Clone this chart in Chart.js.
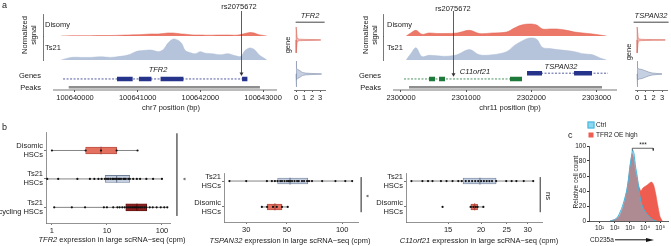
<!DOCTYPE html>
<html>
<head>
<meta charset="utf-8">
<script src="https://cdn.jsdelivr.net/npm/chart.js@4.4.1/dist/chart.umd.min.js"></script>
<style>
  body { margin: 0; background: #fff; }
  #fig { position: relative; width: 671px; height: 246px; overflow: hidden;
         font-family: "Liberation Sans", Arial, Helvetica, sans-serif; color: #222; }
  #fig canvas { position: absolute; }
  .t { position: absolute; font-size: 7.5px; line-height: 1.15; white-space: nowrap; text-align: center; }
  .pl { font-size: 9px; }
</style>
</head>
<body>
<div id="fig"></div>
<script>
// ---------- panel a : coverage tracks ----------
const chr7Ticks = [100640000, 100641000, 100642000, 100643000];
const chr7Pos = [100639780, 100639940, 100640100, 100640250, 100640410, 100640570, 100640730, 100640860, 100640970, 100641080, 100641210, 100641330, 100641410, 100641480, 100641560, 100641640, 100641700, 100641760, 100641840, 100641920, 100642000, 100642080, 100642190, 100642320, 100642440, 100642560, 100642650, 100642710, 100642790, 100642860, 100642920, 100642980, 100643060];
const chr7Disomy = [0, 0.3, 0.3, 0.3, 0.5, 0.5, 0.8, 1, 1.2, 1.5, 2, 2, 2.5, 3, 3, 2.5, 2, 1.8, 1.2, 1, 1, 0.8, 0.8, 1, 1, 0.8, 1.5, 2.5, 3.5, 3, 1.5, 0.8, 0];
const chr7Ts21 = [0, 2.5, 2.5, 2.5, 3, 2.5, 3.5, 5, 8, 9, 9.5, 8, 10, 16, 20, 19, 16, 9, 7, 6, 8, 6.5, 6, 5, 6, 4, 3.5, 9, 11.5, 10, 6, 3, 0];
const tfr2Span = [100639810, 100642750];
const tfr2ExonStart = [100640670, 100641020, 100641365, 100642665];
const tfr2ExonEnd = [100640920, 100641220, 100641730, 100642750];
const chr7Peak = [100639900, 100642950];
const chr7Snp = 100642650;

const chr11Ticks = [2300000, 2301000, 2302000, 2303000];
const chr11Pos = [2300080, 2300150, 2300230, 2300320, 2300430, 2300550, 2300690, 2300860, 2301050, 2301200, 2301400, 2301620, 2301740, 2301850, 2301970, 2302080, 2302170, 2302280, 2302390, 2302540, 2302660, 2302790, 2302940, 2303050, 2303150];
const chr11Disomy = [0, 3, 5.7, 1.7, 3, 2.5, 2.5, 3, 5.7, 2.5, 3, 4, 8, 11, 12, 11, 7, 7, 7, 5.7, 4, 3, 2, 1, 0];
const chr11Ts21 = [0, 6, 11.7, 3.3, 4.5, 4, 3.5, 5, 10, 5, 5, 8, 14, 18, 21, 20, 12, 11, 10, 9, 8, 6, 5, 2, 0];
const c11Span = [2300046, 2301856];
const c11ExonStart = [2300430, 2300583, 2301672];
const c11ExonEnd = [2300522, 2300675, 2301856];
const tspanSpan = [2301933, 2303175];
const tspanExonStart = [2301933, 2302654];
const tspanExonEnd = [2302163, 2302930];
const chr11Peak = [2300123, 2303083];
const chr11Snp = 2300798;

// violins (expression 0..3, relative density)
const violinTicks = [0, 1, 2, 3];
const tfr2VioDisX = [0, 0.02, 0.15, 0.4, 1, 2, 3.1];
const tfr2VioDisD = [0, 1, 0.12, 0.06, 0.045, 0.035, 0.02];
const tfr2VioTsX = [0, 0.02, 0.1, 0.25, 0.5, 0.8, 1.2, 2, 3.2];
const tfr2VioTsD = [0, 1, 0.45, 0.33, 0.25, 0.12, 0.07, 0.04, 0.02];
const tspVioDisX = [0, 0.02, 0.15, 0.5, 1, 2, 3.4];
const tspVioDisD = [0, 1, 0.1, 0.05, 0.04, 0.03, 0.02];
const tspVioTsX = [0, 0.02, 0.1, 0.3, 0.6, 1.0, 1.4, 1.8, 2.4, 3.0];
const tspVioTsD = [0, 1, 0.45, 0.38, 0.35, 0.25, 0.15, 0.08, 0.04, 0.02];

// ---------- panel b : expression boxplots ----------
const tfr2Cats = [['Disomic', 'HSCs'], ['Ts21', 'HSCs'], ['Ts21', 'cycling HSCs']];
const tfr2Ticks = [1, 10, 100];
const tfr2Disomic = [1.0, 4.1, 7.8, 15, 36];
const tfr2Ts21 = [0.82, 1.3, 2.9, 4.9, 5.9, 7, 8, 9.2, 10, 10.6, 11.5, 12.5, 13, 14, 15, 16, 17, 18, 19.8, 21, 22, 24.4, 26, 30, 35, 40, 52, 69, 100];
const tfr2Cycling = [1.1, 2.3, 4.0, 8.8, 10, 13, 15.5, 17, 19, 21, 23, 25, 27, 29, 31, 33, 35, 38, 41, 44, 48, 52, 60, 68, 80, 95, 110, 125];
const tfr2Stats = [[1.0, 4.1, 7.8, 15, 36], [0.82, 9.3, 15, 26, 100], [1.1, 22, 35, 53, 125]];

const twoCats = [['Ts21', 'HSCs'], ['Disomic', 'HSCs']];
const tspanTicks = [30, 50, 100];
const tspanTs21 = [24.3, 30, 38.9, 41.4, 43, 44.5, 46, 47, 48.5, 50, 51, 52, 53.3, 55, 56.8, 58, 60.4, 62, 64.4, 66, 68.5, 77.8, 91.9, 104, 113.4];
const tspanDisomic = [36.5, 39, 42, 44, 47, 50.5];
const tspanStats = [[24.3, 44.5, 52, 65, 113.4], [36.5, 39, 43, 47, 50.5]];

const c11Ticks = [15, 20, 25, 30];
const c11Ts21 = [10.9, 12.0, 12.6, 13.1, 14.1, 14.8, 15.6, 16.4, 16.9, 17.5, 18, 18.5, 19, 19.5, 20, 20.5, 21, 21.5, 22, 22.8, 24.9, 26.1, 27.2, 29, 31.5];
const c11Disomic = [14.3, 18.3, 18.7, 19.1, 19.4, 20.4];
const c11Stats = [[10.9, 17.1, 19.8, 22.8, 31.5], [18.0, 18.3, 18.9, 19.4, 20.4]];

// ---------- panel c : CD235a histogram ----------
const cdTicks = [10, 100, 1000, 10000, 100000];
const cdTickLabels = ['10\u00b9', '10\u00b2', '10\u00b3', '10\u2074', '10\u2075'];
const ctrlX = [49, 105, 170, 290, 430, 620, 800, 1000, 1320, 1510, 1860, 2400, 3100, 3980, 5370, 7590, 12900, 21400, 35500, 58900];
const ctrlY = [0, 2, 6.7, 17, 28, 41, 55, 72, 88, 95, 90, 72, 59, 41, 26, 17, 10, 5, 1.3, 0];
const oeX = [49, 135, 224, 363, 525, 708, 912, 1175, 1445, 1780, 2290, 2950, 3980, 5370, 7240, 10000, 14100, 21400, 27500, 37200, 50100, 69200, 97700, 138000];
const oeY = [0, 3, 8, 19, 32, 46, 64, 81, 90, 84, 68, 57, 46, 40, 44, 46, 48, 51, 52, 48, 37, 21, 6, 0];

const BLUE = '#B6C4DB', NAVY = '#27348B', GREEN = '#1D7A3A';

Chart.defaults.font.family = '"Liberation Sans", Arial, Helvetica, sans-serif';
Chart.defaults.font.size = 7.5;
Chart.defaults.color = '#222';
Chart.defaults.plugins.legend.display = false;
Chart.defaults.plugins.tooltip.enabled = false;
Chart.defaults.elements.point.radius = 0;

const fig = document.getElementById('fig');

function mk(left, top, w, h) {
  const c = document.createElement('canvas');
  c.width = w; c.height = h;
  c.style.left = left + 'px'; c.style.top = top + 'px';
  c.style.width = w + 'px'; c.style.height = h + 'px';
  fig.appendChild(c);
  return c;
}

function lab(html, x, y, o = {}) {
  const d = document.createElement('div');
  d.className = 't' + (o.cls ? ' ' + o.cls : '');
  d.innerHTML = html;
  d.style.left = x + 'px';
  d.style.top = y + 'px';
  let tf = o.anchor === 'right' ? 'translate(-100%,-50%)' : o.anchor === 'left' ? 'translate(0,-50%)' : 'translate(-50%,-50%)';
  if (o.rot) tf += ' rotate(' + o.rot + 'deg)';
  d.style.transform = tf;
  if (o.size) d.style.fontSize = o.size + 'px';
  if (o.css) Object.assign(d.style, o.css);
  fig.appendChild(d);
  return d;
}

const pts = (xs, ys) => xs.map((x, i) => ({ x, y: ys[i] }));
const segs = (s, e, y) => s.flatMap((a, i) => [{ x: a, y }, { x: e[i], y }, { x: e[i], y: null }]);
const fixedTicks = vals => s => { s.ticks = vals.map(v => ({ value: v })); };

// arrow for the SNP, drawn from the x scale
const snpPlugin = {
  id: 'snp',
  afterDatasetsDraw(chart, args, o) {
    const ctx = chart.ctx;
    const x = Math.round(chart.scales.x.getPixelForValue(o.pos)) + 0.5;
    const y0 = chart.chartArea.top - 3;
    const y1 = chart.scales.yG.getPixelForValue(o.tip);
    ctx.save();
    ctx.strokeStyle = '#333'; ctx.fillStyle = '#333'; ctx.lineWidth = 0.8;
    ctx.beginPath(); ctx.moveTo(x, y0); ctx.lineTo(x, y1 - 2); ctx.stroke();
    ctx.beginPath(); ctx.moveTo(x - 2, y1 - 3.5); ctx.lineTo(x + 2, y1 - 3.5); ctx.lineTo(x, y1); ctx.closePath(); ctx.fill();
    ctx.restore();
  }
};

function trackChart(cv, o) {
  const hidden = (w, border, min, max) => ({
    type: 'linear', position: 'left', stack: 'trk', stackWeight: w, min, max,
    grid: { display: false, drawTicks: false }, ticks: { display: false },
    border: { display: border, color: '#555', width: 0.8 },
    afterFit: s => { s.width = 0; }
  });
  const ds = [
    { data: pts(o.pos, o.dis), yAxisID: 'yD', fill: 'origin', backgroundColor: 'rgba(232,96,79,0.85)', borderColor: '#E25A48', borderWidth: 0.5, tension: 0.35 },
    { data: pts(o.pos, o.ts), yAxisID: 'yT', fill: 'origin', backgroundColor: BLUE, borderColor: '#A9B9D3', borderWidth: 0.5, tension: 0.35 },
    { data: [{ x: o.peak[0], y: 0.45 }, { x: o.peak[1], y: 0.45 }], yAxisID: 'yP', borderColor: '#8E8E8E', borderWidth: 2.5, borderCapStyle: 'butt' },
    { data: [{ x: o.axis[0], y: 0 }, { x: o.axis[1], y: 0 }], yAxisID: 'yP', borderColor: '#555', borderWidth: 0.8, clip: false }
  ];
  o.genes.forEach(g => {
    ds.push({ data: [{ x: g.span[0], y: g.row }, { x: g.span[1], y: g.row }], yAxisID: 'yG', borderColor: g.color, borderWidth: 0.8, borderDash: [2, 1.5] });
    ds.push({ data: segs(g.s, g.e, g.row), yAxisID: 'yG', borderColor: g.color, borderWidth: 4.5, borderCapStyle: 'butt', spanGaps: false });
  });
  // stacked axes are laid out bottom-up, so the peaks row comes first
  return new Chart(cv, {
    type: 'line',
    data: { datasets: ds },
    plugins: [snpPlugin],
    options: {
      animation: false, responsive: false, devicePixelRatio: 1,
      layout: { padding: { left: 43, right: o.padRight, top: 14, bottom: 10 } },
      plugins: { snp: { pos: o.snp, tip: o.tip } },
      scales: {
        x: {
          type: 'linear', min: o.min, max: o.max,
          afterBuildTicks: fixedTicks(o.ticks),
          afterFit: s => { s.height = 16; },
          ticks: { autoSkip: false, maxRotation: 0, padding: 1, callback: v => String(v) },
          grid: { drawOnChartArea: false, tickLength: 2, color: '#555' },
          border: { display: false }
        },
        yP: hidden(6, false, 0, 1),
        yG: hidden(24, false, 0, 10),
        yT: hidden(24, true, 0, 23),
        yD: hidden(22, true, 0, 22)
      }
    }
  });
}

trackChart(mk(0, 0, 290, 116), {
  pos: chr7Pos, dis: chr7Disomy, ts: chr7Ts21, peak: chr7Peak, axis: [100639650, 100643222],
  genes: [{ span: tfr2Span, s: tfr2ExonStart, e: tfr2ExonEnd, row: 2.1, color: NAVY }],
  snp: chr7Snp, tip: 3.3, min: 100639490, max: 100643270, padRight: 10, ticks: chr7Ticks
});
trackChart(mk(340, 0, 290, 116), {
  pos: chr11Pos, dis: chr11Disomy, ts: chr11Ts21, peak: chr11Peak, axis: [2299877, 2303313],
  genes: [{ span: c11Span, s: c11ExonStart, e: c11ExonEnd, row: 2.1, color: GREEN },
          { span: tspanSpan, s: tspanExonStart, e: tspanExonEnd, row: 4.5, color: NAVY }],
  snp: chr11Snp, tip: 3.0, min: 2299724, max: 2303359, padRight: 10, ticks: chr11Ticks
});

function violinChart(cv, rows, xmin, xmax, padL, padR) {
  const VW = 0.38;
  const ds = [];
  rows.forEach(r => {
    ds.push({ data: r.x.map((x, i) => ({ x, y: r.c + r.d[i] * VW })), borderColor: r.stroke, borderWidth: 0.6 });
    ds.push({ data: r.x.map((x, i) => ({ x, y: r.c - r.d[i] * VW })), borderColor: r.stroke, borderWidth: 0.6, fill: '-1', backgroundColor: r.fill });
  });
  return new Chart(cv, {
    type: 'line',
    data: { datasets: ds },
    options: {
      animation: false, responsive: false, devicePixelRatio: 1,
      layout: { padding: { left: padL, right: padR, top: 26, bottom: 10 } },
      scales: {
        x: {
          type: 'linear', min: xmin, max: xmax,
          afterBuildTicks: fixedTicks(violinTicks),
          afterFit: s => { s.height = 16; },
          ticks: { autoSkip: false, maxRotation: 0, padding: 1 },
          grid: { drawOnChartArea: false, tickLength: 2, color: '#555' },
          border: { color: '#555', width: 0.8 }
        },
        y: { type: 'linear', min: -0.47, max: 1.41, display: false }
      }
    }
  });
}

violinChart(mk(280, 0, 60, 116), [
  { c: 1, x: tfr2VioDisX, d: tfr2VioDisD, stroke: '#D9685A', fill: 'rgba(232,112,95,0.45)' },
  { c: 0, x: tfr2VioTsX, d: tfr2VioTsD, stroke: '#8391AB', fill: 'rgba(182,196,219,0.8)' }
], -0.25, 3.625, 14, 15);
violinChart(mk(620, 0, 51, 116), [
  { c: 1, x: tspVioDisX, d: tspVioDisD, stroke: '#D9685A', fill: 'rgba(232,112,95,0.45)' },
  { c: 0, x: tspVioTsX, d: tspVioTsD, stroke: '#8391AB', fill: 'rgba(182,196,219,0.8)' }
], -0.24, 3.6, 15, 4);

// ---------- boxplots ----------
function boxChart(cv, o) {
  const ds = [];
  o.stats.forEach((st, i) => {
    ds.push({ type: 'line', data: [{ x: st[0], y: i }, { x: st[4], y: i }], borderColor: '#666', borderWidth: 0.8, order: 4 });
    ds.push({ type: 'line', data: [{ x: st[2], y: i - 0.13 }, { x: st[2], y: i + 0.13 }], borderColor: o.border[i], borderWidth: 1.2, order: 2 });
    ds.push({ type: 'scatter', data: o.pts[i].map(v => ({ x: v, y: i })), pointRadius: 1.1, backgroundColor: '#111', borderWidth: 0, order: 1 });
  });
  ds.push({
    type: 'bar', indexAxis: 'y', data: o.stats.map((st, i) => ({ x: [st[1], st[3]], y: i })),
    backgroundColor: o.fill, borderColor: o.border, borderWidth: 0.8, borderSkipped: false,
    barThickness: o.barT, order: 3
  });
  ds.push({ type: 'line', data: o.bracket, borderColor: '#666', borderWidth: 0.8, clip: false, order: 0 });
  return new Chart(cv, {
    type: 'bar',
    data: { datasets: ds },
    options: {
      animation: false, responsive: false, devicePixelRatio: 1,
      layout: { padding: o.pad },
      scales: {
        x: {
          type: 'logarithmic', min: o.xmin, max: o.xmax, offset: false,
          afterBuildTicks: fixedTicks(o.ticks),
          afterFit: s => { s.height = 16; },
          ticks: { autoSkip: false, maxRotation: 0, padding: 1, callback: v => String(v) },
          grid: { drawOnChartArea: false, offset: false, tickLength: 2, color: '#777' },
          border: { color: '#777', width: 0.8 }
        },
        y: {
          type: 'linear', min: o.ymin, max: o.ymax, reverse: true, offset: false,
          afterBuildTicks: fixedTicks(o.cats.map((c, i) => i)),
          afterFit: s => { s.width = o.yW; },
          ticks: { autoSkip: false, padding: 1, callback: v => o.cats[v] },
          grid: { drawOnChartArea: false, offset: false, tickLength: 2, color: '#777' },
          border: { color: '#777', width: 0.8 }
        }
      }
    }
  });
}

boxChart(mk(0, 122, 200, 124), {
  cats: tfr2Cats, stats: tfr2Stats, pts: [tfr2Disomic, tfr2Ts21, tfr2Cycling],
  fill: ['#E4705F', '#C3CEE0', '#8E1F1F'], border: ['#A9443A', '#6F7E97', '#5A1010'],
  xmin: 0.78, xmax: 140, ticks: tfr2Ticks, ymin: -0.65, ymax: 2.55, yW: 46, barT: 7,
  pad: { left: 0, right: 30, top: 10, bottom: 7 },
  bracket: [{ x: 187, y: -0.6 }, { x: 187, y: 2.3 }]
});
boxChart(mk(180, 122, 200, 124), {
  cats: twoCats, stats: tspanStats, pts: [tspanTs21, tspanDisomic],
  fill: ['#C3CEE0', '#E4705F'], border: ['#6F7E97', '#A9443A'],
  xmin: 22.7, xmax: 122, ticks: tspanTicks, ymin: -0.31, ymax: 1.58, yW: 44, barT: 6,
  pad: { left: 0, right: 22, top: 51, bottom: 8 },
  bracket: [{ x: 127, y: -0.15 }, { x: 127, y: 1.2 }]
});
boxChart(mk(360, 122, 200, 124), {
  cats: twoCats, stats: c11Stats, pts: [c11Ts21, c11Disomic],
  fill: ['#C3CEE0', '#E4705F'], border: ['#6F7E97', '#A9443A'],
  xmin: 10.4, xmax: 34, ticks: c11Ticks, ymin: -0.31, ymax: 1.58, yW: 46, barT: 6,
  pad: { left: 0, right: 18, top: 51, bottom: 8 },
  bracket: [{ x: 33.5, y: -0.15 }, { x: 33.5, y: 1.2 }]
});

// ---------- histogram ----------
new Chart(mk(568, 140, 103, 106), {
  type: 'line',
  data: {
    datasets: [
      { data: [{ x: 1445, y: 94 }, { x: 1445, y: 97 }, { x: 35000, y: 97 }, { x: 35000, y: 94 }], borderColor: '#222', borderWidth: 0.7, order: 0 },
      { data: pts(ctrlX, ctrlY), fill: 'origin', backgroundColor: 'rgba(95,195,230,0.45)', borderColor: '#45B5DD', borderWidth: 1, tension: 0.2, order: 1 },
      { data: pts(oeX, oeY), fill: 'origin', backgroundColor: '#EE5D4F', borderColor: '#E8574A', borderWidth: 0.6, tension: 0.2, order: 2 }
    ]
  },
  options: {
    animation: false, responsive: false, devicePixelRatio: 1,
    layout: { padding: { left: 0, right: 3, top: 6, bottom: 12 } },
    scales: {
      x: {
        type: 'logarithmic', min: 2, max: 330000,
        afterBuildTicks: fixedTicks(cdTicks),
        afterFit: s => { s.height = 13; },
        ticks: { autoSkip: false, maxRotation: 0, padding: 1, font: { size: 6.5 }, callback: (v, i) => cdTickLabels[i] },
        grid: { drawOnChartArea: false, tickLength: 2, color: '#333' },
        border: { color: '#333', width: 0.8 }
      },
      y: {
        type: 'linear', min: 0, max: 100,
        afterBuildTicks: fixedTicks([0, 20, 40, 60, 80, 100]),
        afterFit: s => { s.width = 21; },
        ticks: { padding: 1, font: { size: 6.5 } },
        grid: { drawOnChartArea: false, tickLength: 2, color: '#333' },
        border: { color: '#333', width: 0.8 }
      }
    }
  }
});

// ---------- text ----------
lab('a', 2, 5, { anchor: 'left', cls: 'pl' });
lab('b', 2, 127, { anchor: 'left', cls: 'pl' });
lab('c', 568, 135, { anchor: 'left', cls: 'pl' });

// left genome panel
lab('Normalized<br>signal', 30, 35, { rot: -90 });
lab('Disomy', 45, 25, { anchor: 'left' });
lab('Ts21', 45, 48, { anchor: 'left' });
lab('Genes', 41, 76, { anchor: 'right' });
lab('Peaks', 41, 88, { anchor: 'right' });
lab('<i>TFR2</i>', 158, 70);
lab('rs2075672', 239, 7);
lab('chr7 position (bp)', 171, 108);
lab('<i>TFR2</i>', 310, 17, { css: { borderBottom: '0.8px solid #444', padding: '0 5px 1px' } });
lab('gene', 288, 45, { rot: -90 });

// right genome panel
lab('Normalized<br>signal', 371, 35, { rot: -90 });
lab('Disomy', 387, 25, { anchor: 'left' });
lab('Ts21', 387, 48, { anchor: 'left' });
lab('Genes', 381, 76, { anchor: 'right' });
lab('Peaks', 381, 88, { anchor: 'right' });
lab('<i>C11orf21</i>', 475, 72);
lab('<i>TSPAN32</i>', 561, 67);
lab('rs2075672', 453, 9);
lab('chr11 position (bp)', 510, 108);
lab('<i>TSPAN32</i>', 651, 17, { css: { borderBottom: '0.8px solid #444', padding: '0 1px 1px' } });
lab('gene', 629, 52, { rot: -90 });

// panel b
lab('<i>TFR2</i> expression in large scRNA\u2212seq (cpm)', 112, 240);
lab('<i>TSPAN32</i> expression in large scRNA\u2212seq (cpm)', 290, 241);
lab('<i>C11orf21</i> expression in large scRNA\u2212seq (cpm)', 479, 241);
lab('*', 183, 179, { rot: 90 });
lab('*', 366, 196, { rot: 90 });
lab('ns', 548, 196, { rot: 90 });

// panel c
lab('Relative cell count', 576, 182, { rot: -90, size: 6.5 });
lab('***', 643, 145, { size: 6.5 });
lab('', 591, 125, { css: { width: '5px', height: '5px', background: 'rgba(110,205,235,0.8)', border: '0.6px solid #45B5DD' } });
lab('Ctrl', 596, 125, { anchor: 'left', size: 6.5 });
lab('', 591, 135, { css: { width: '5px', height: '5px', background: '#EE5D4F' } });
lab('TFR2 OE high', 596, 135, { anchor: 'left', size: 6.5 });
lab('CD235a', 590, 240, { anchor: 'left', size: 6.5 });
lab('', 631, 240, { css: { width: '32px', height: '1.4px', background: '#111' } });
lab('', 650, 240, { css: { width: '0', height: '0', borderLeft: '8px solid #111', borderTop: '2.8px solid transparent', borderBottom: '2.8px solid transparent' } });
</script>
</body>
</html>
